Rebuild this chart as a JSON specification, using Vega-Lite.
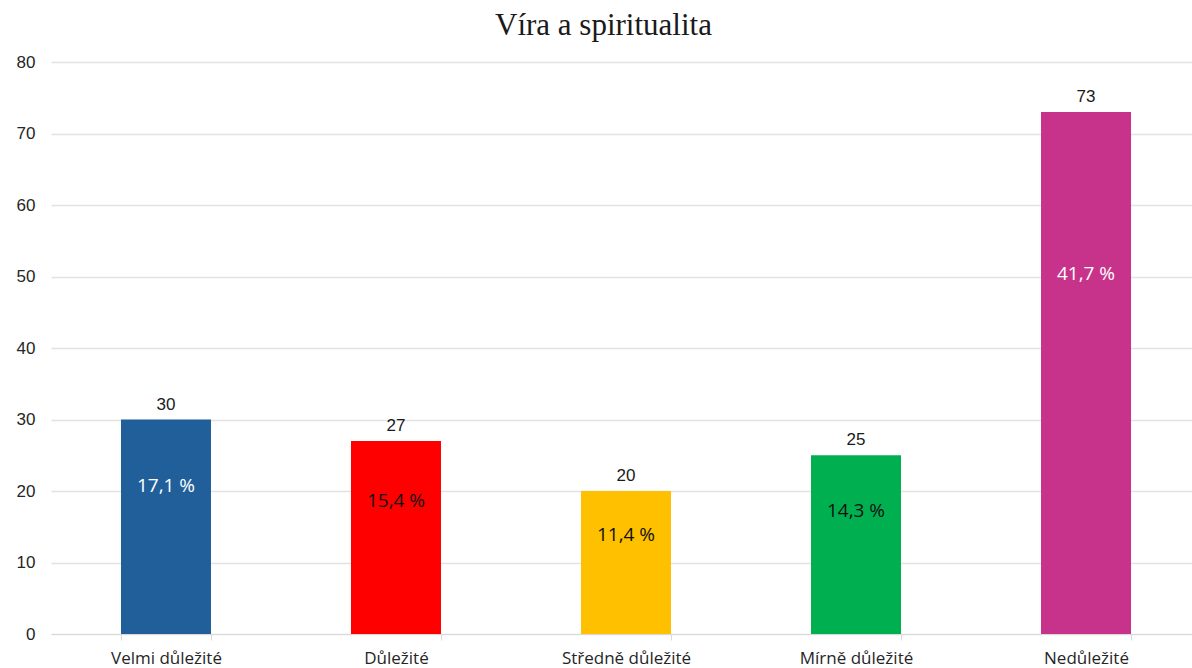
{
  "$schema": "https://vega.github.io/schema/vega-lite/v6.json",
  "autosize": {"type": "none"},
  "width": 1141,
  "height": 572,
  "padding": {"left": 51, "top": 62, "right": 0, "bottom": 34},
  "background": "white",
  "config": {"view": {"stroke": null}},
  "title": {
    "text": "Víra a spiritualita",
    "font": "Liberation Serif",
    "fontSize": 31,
    "fontWeight": "normal",
    "color": "#1a1a1a",
    "anchor": "middle",
    "dx": -18,
    "offset": 11
  },
  "data": {
    "values": [
      {"kategorie": "Velmi důležité", "value": 30, "pct": "17,1 %", "barva": "#215F9A", "textColor": "#ffffff"},
      {"kategorie": "Důležité", "value": 27, "pct": "15,4 %", "barva": "#FF0000", "textColor": "#111111"},
      {"kategorie": "Středně důležité", "value": 20, "pct": "11,4 %", "barva": "#FFC000", "textColor": "#111111"},
      {"kategorie": "Mírně důležité", "value": 25, "pct": "14,3 %", "barva": "#00B050", "textColor": "#111111"},
      {"kategorie": "Nedůležité", "value": 73, "pct": "41,7 %", "barva": "#C7338A", "textColor": "#ffffff"}
    ]
  },
  "transform": [{"calculate": "datum.value * 0.69", "as": "labelPos"}],
  "encoding": {
    "x": {
      "field": "kategorie",
      "type": "nominal",
      "sort": null,
      "scale": {"paddingInner": 0.6087, "paddingOuter": 0.3043, "range": [0, 1150]},
      "axis": {
        "title": null,
        "labelAngle": 0,
        "labelFont": "Open Sans",
        "labelFontSize": 17,
        "labelColor": "#262626",
        "labelPadding": 10,
        "domainColor": "#d9d9d9",
        "tickColor": "#d9d9d9",
        "tickBand": "extent",
        "tickSize": 6,
        "grid": false
      }
    }
  },
  "layer": [
    {
      "mark": {"type": "bar"},
      "encoding": {
        "y": {
          "field": "value",
          "type": "quantitative",
          "scale": {"domain": [0, 80]},
          "axis": {
            "title": null,
            "values": [0, 10, 20, 30, 40, 50, 60, 70, 80],
            "labelFont": "Liberation Sans",
            "labelFontSize": 17,
            "labelColor": "#262626",
            "labelPadding": 16,
            "ticks": false,
            "domain": false,
            "gridColor": "#e3e3e3",
            "gridWidth": 1.3
          }
        },
        "color": {"field": "barva", "type": "nominal", "scale": null, "legend": null}
      }
    },
    {
      "mark": {"type": "text", "baseline": "bottom", "dy": -6, "font": "Liberation Sans", "fontSize": 17, "color": "#1a1a1a"},
      "encoding": {
        "y": {"field": "value", "type": "quantitative"},
        "text": {"field": "value", "type": "quantitative"}
      }
    },
    {
      "mark": {"type": "text", "baseline": "middle", "font": "Open Sans", "fontSize": 19},
      "encoding": {
        "y": {"field": "labelPos", "type": "quantitative"},
        "text": {"field": "pct", "type": "nominal"},
        "color": {"field": "textColor", "type": "nominal", "scale": null, "legend": null}
      }
    }
  ]
}
